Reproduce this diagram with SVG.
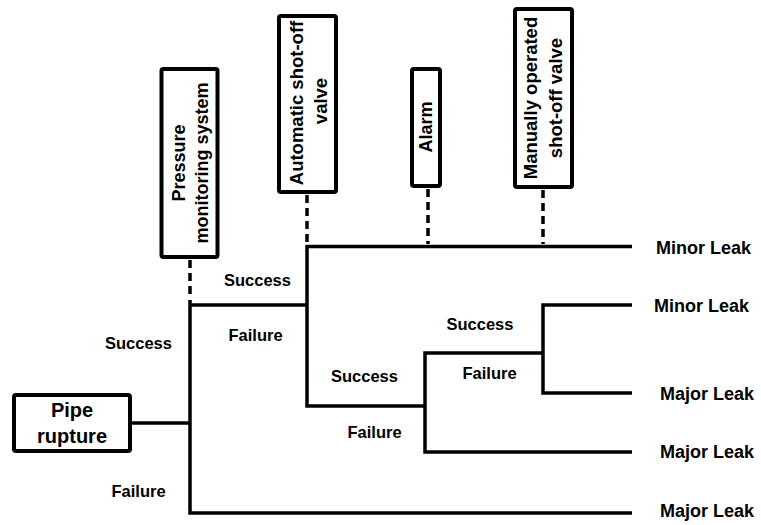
<svg xmlns="http://www.w3.org/2000/svg" width="761" height="525" viewBox="0 0 761 525">
<style>
  .box { fill: #fff; stroke: #000; stroke-width: 4; }
  .ln { fill: none; stroke: #000; stroke-width: 3.5; stroke-linejoin: miter; }
  .dash { fill: none; stroke: #000; stroke-width: 3.5; stroke-dasharray: 8 5; }
  text { font-family: "Liberation Sans", Arial, sans-serif; font-weight: bold; fill: #000; }
  .lbl { font-size: 16.5px; }
  .out { font-size: 18px; }
  .vt { font-size: 18px; text-anchor: middle; }
  .vt2 { font-size: 18.5px; text-anchor: middle; }
  .pt { font-size: 20px; text-anchor: middle; }
</style>
<rect width="761" height="525" fill="#fff"/>
<g id="connectors">
  <path class="ln" d="M132 423 H190"/>
  <path class="ln" d="M190 300 V513 H632"/>
  <path class="ln" d="M190 305 H307"/>
  <path class="ln" d="M632 246.5 H307 V406 H425"/>
  <path class="ln" d="M632 452 H425 V353 H543"/>
  <path class="ln" d="M632 305 H543 V393 H632"/>
  <path class="dash" d="M190 260 V298"/>
  <path class="dash" d="M307 195 V244"/>
  <path class="dash" d="M428 189 V244"/>
  <path class="dash" d="M543 190 V244"/>
</g>
<g id="pipe-rupture">
  <rect class="box" x="14" y="395" width="116" height="56" rx="2"/>
  <text class="pt" x="72" y="417">Pipe</text>
  <text class="pt" x="72" y="443">rupture</text>
</g>
<g id="pressure-monitoring">
  <rect class="box" x="161.5" y="69" width="56" height="188" rx="2"/>
  <text class="vt" transform="translate(185,163) rotate(-90)">Pressure</text>
  <text class="vt" transform="translate(208,163) rotate(-90)">monitoring system</text>
</g>
<g id="automatic-valve">
  <rect class="box" x="279" y="16" width="57" height="176" rx="2"/>
  <text class="vt2" transform="translate(303,103) rotate(-90)">Automatic shot-off</text>
  <text class="vt2" transform="translate(327,101) rotate(-90)">valve</text>
</g>
<g id="alarm">
  <rect class="box" x="412" y="69" width="28" height="117" rx="2"/>
  <text class="vt" transform="translate(431.5,127) rotate(-90)">Alarm</text>
</g>
<g id="manual-valve">
  <rect class="box" x="515" y="9" width="57" height="178" rx="2"/>
  <text class="vt2" transform="translate(537,98) rotate(-90)">Manually operated</text>
  <text class="vt2" transform="translate(561.5,98) rotate(-90)">shot-off valve</text>
</g>
<g id="labels">
  <text class="lbl" x="105" y="349">Success</text>
  <text class="lbl" x="111.5" y="497">Failure</text>
  <text class="lbl" x="224" y="286">Success</text>
  <text class="lbl" x="228.5" y="341">Failure</text>
  <text class="lbl" x="331" y="382">Success</text>
  <text class="lbl" x="347.5" y="438">Failure</text>
  <text class="lbl" x="446.5" y="330">Success</text>
  <text class="lbl" x="462.5" y="379">Failure</text>
</g>
<g id="outcomes">
  <text class="out" x="656" y="254">Minor Leak</text>
  <text class="out" x="654" y="311.5">Minor Leak</text>
  <text class="out" x="660" y="400">Major Leak</text>
  <text class="out" x="660" y="458">Major Leak</text>
  <text class="out" x="660" y="517">Major Leak</text>
</g>
</svg>
